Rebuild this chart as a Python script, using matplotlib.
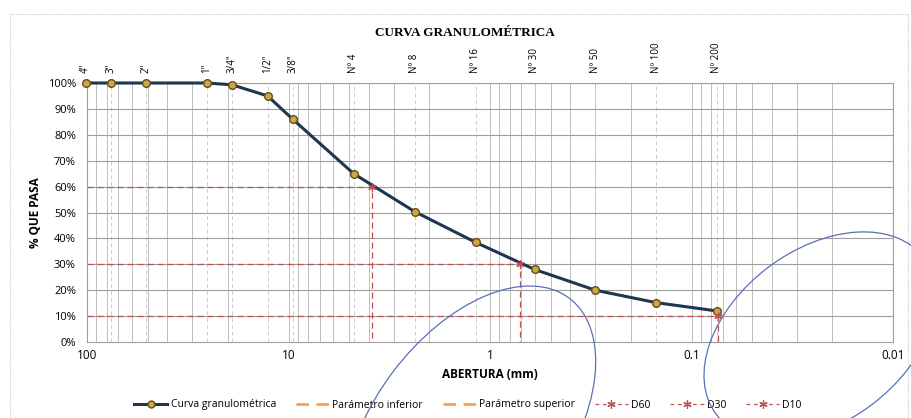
import matplotlib
matplotlib.use("Agg")
import numpy as np
import matplotlib.pyplot as plt
from matplotlib.lines import Line2D
from matplotlib.patches import Ellipse, Rectangle

# Sieve openings (mm) and percent passing
sieves = ['4"', '3"', '2"', '1"', '3/4"', '1/2"', '3/8"',
          'Nº 4', 'Nº 8', 'Nº 16', 'Nº 30', 'Nº 50', 'Nº 100', 'Nº 200']
abertura = [101.6, 76.2, 50.8, 25.4, 19.05, 12.7, 9.525,
            4.75, 2.36, 1.18, 0.6, 0.3, 0.15, 0.075]
pasa = [100, 100, 100, 100, 99.3, 95, 86,
        65, 50.3, 38.5, 28, 20, 15.2, 12]

# Characteristic diameters (mm) and their percent
d_names = ["D60", "D30", "D10"]
d_pct = [60, 30, 10]
d_size = [3.85, 0.71, 0.074]

xticks = [100, 10, 1, 0.1, 0.01]
xtick_labels = ["100", "10", "1", "0.1", "0.01"]

plt.rcParams['font.family'] = ['Open Sans', 'DejaVu Sans']

W, H = 912, 418
fig = plt.figure(figsize=(W / 100, H / 100), dpi=100)
ax = fig.add_axes([87 / W, 1 - 342 / H, 806 / W, 259 / H])

ax.set_xscale("log")
ax.set_xlim(100, 0.01)
ax.set_ylim(0, 100)

# grid: minor log verticals, dashed at each sieve, major horizontals
for dec in [0.01, 0.1, 1, 10]:
    for k in range(1, 10):
        ax.axvline(dec * k, color="#bdbdbd", lw=0.7, zorder=0)
for s in abertura:
    ax.axvline(s, color="#cccccc", lw=0.7, ls=(0, (4, 3)), zorder=0)
for p in range(10, 101, 10):
    ax.axhline(p, color="#9e9e9e", lw=0.8, zorder=0)

# D lines
d_color = "#c0504d"
for pct, size in zip(d_pct, d_size):
    ax.plot([100, size, size], [pct, pct, 0], color=d_color, lw=0.9,
            ls=(0, (5, 3)), zorder=2)
    ax.plot([size], [pct], ls="none", marker=(6, 2, 0), ms=6,
            color=d_color, mew=0.9, zorder=4)

ax.plot(abertura, pasa, color="#1f3550", lw=2.2, marker="o", ms=5.5,
        mfc="#c9a845", mec="#6b4a1c", mew=1.0, zorder=3, clip_on=False)

ax.set_yticks(range(0, 101, 10))
ax.set_yticklabels([f"{p}%" for p in range(0, 101, 10)], fontsize=8)
ax.set_xticks(xticks)
ax.set_xticklabels(xtick_labels, fontsize=8.5)
ax.xaxis.set_minor_locator(matplotlib.ticker.NullLocator())
ax.tick_params(axis="y", length=0, pad=8)
ax.tick_params(axis="x", length=0, pad=5)
for sp in ax.spines.values():
    sp.set_color("#9e9e9e")
    sp.set_linewidth(0.8)

for lab, s in zip(sieves, abertura):
    ax.text(s, 1.04, lab, rotation=90, ha="center", va="bottom", fontsize=7,
            transform=ax.get_xaxis_transform())

ax.set_ylabel("% QUE PASA", fontsize=8.5, fontweight="bold", labelpad=4)
ax.set_xlabel("ABERTURA (mm)", fontsize=8.5, fontweight="bold", labelpad=4)
fig.text(465 / W, 1 - 33 / H, "CURVA GRANULOMÉTRICA", ha="center", va="center",
         fontsize=9.5, fontweight="bold", family="Liberation Serif")

handles = [
    Line2D([], [], color="#1f3550", lw=2.2, marker="o", ms=5, mfc="#c9a845",
           mec="#6b4a1c"),
    Line2D([], [], color="#f79646", lw=1.8, ls=(0, (5, 3))),
    Line2D([], [], color="#f79646", lw=1.8, ls=(0, (5, 3))),
]
for _ in d_names:
    handles.append(Line2D([], [], color=d_color, lw=0.9, ls=(0, (3, 3)),
                          marker=(6, 2, 0), ms=6, mew=0.9))
labels = ["Curva granulométrica", "Parámetro inferior", "Parámetro superior"] + d_names
fig.legend(handles, labels, loc="center", bbox_to_anchor=(468 / W, 1 - 405 / H),
           ncol=6, frameon=False, fontsize=7.5, handlelength=3.2,
           columnspacing=1.9, handletextpad=0.3)

# outer chart border
fig.patches.append(Rectangle((10 / W, 0), 898 / W, 1 - 14 / H,
                             transform=fig.transFigure, fill=False,
                             ec="#c8c8c8", lw=0.8, ls=(0, (1, 1))))

# pen marks over the sheet
over = fig.add_axes([0, 0, 1, 1], zorder=10)
over.set_xlim(0, W)
over.set_ylim(H, 0)
over.axis("off")
over.patch.set_alpha(0)
over.add_patch(Ellipse((470, 430), 330, 193, angle=-53, fill=False,
                       ec="#5a6fb8", lw=0.9))
over.add_patch(Ellipse((820, 336), 260, 172, angle=-37, fill=False,
                       ec="#5a6fb8", lw=0.9))

fig.savefig("out.png", dpi=100, facecolor="white")
